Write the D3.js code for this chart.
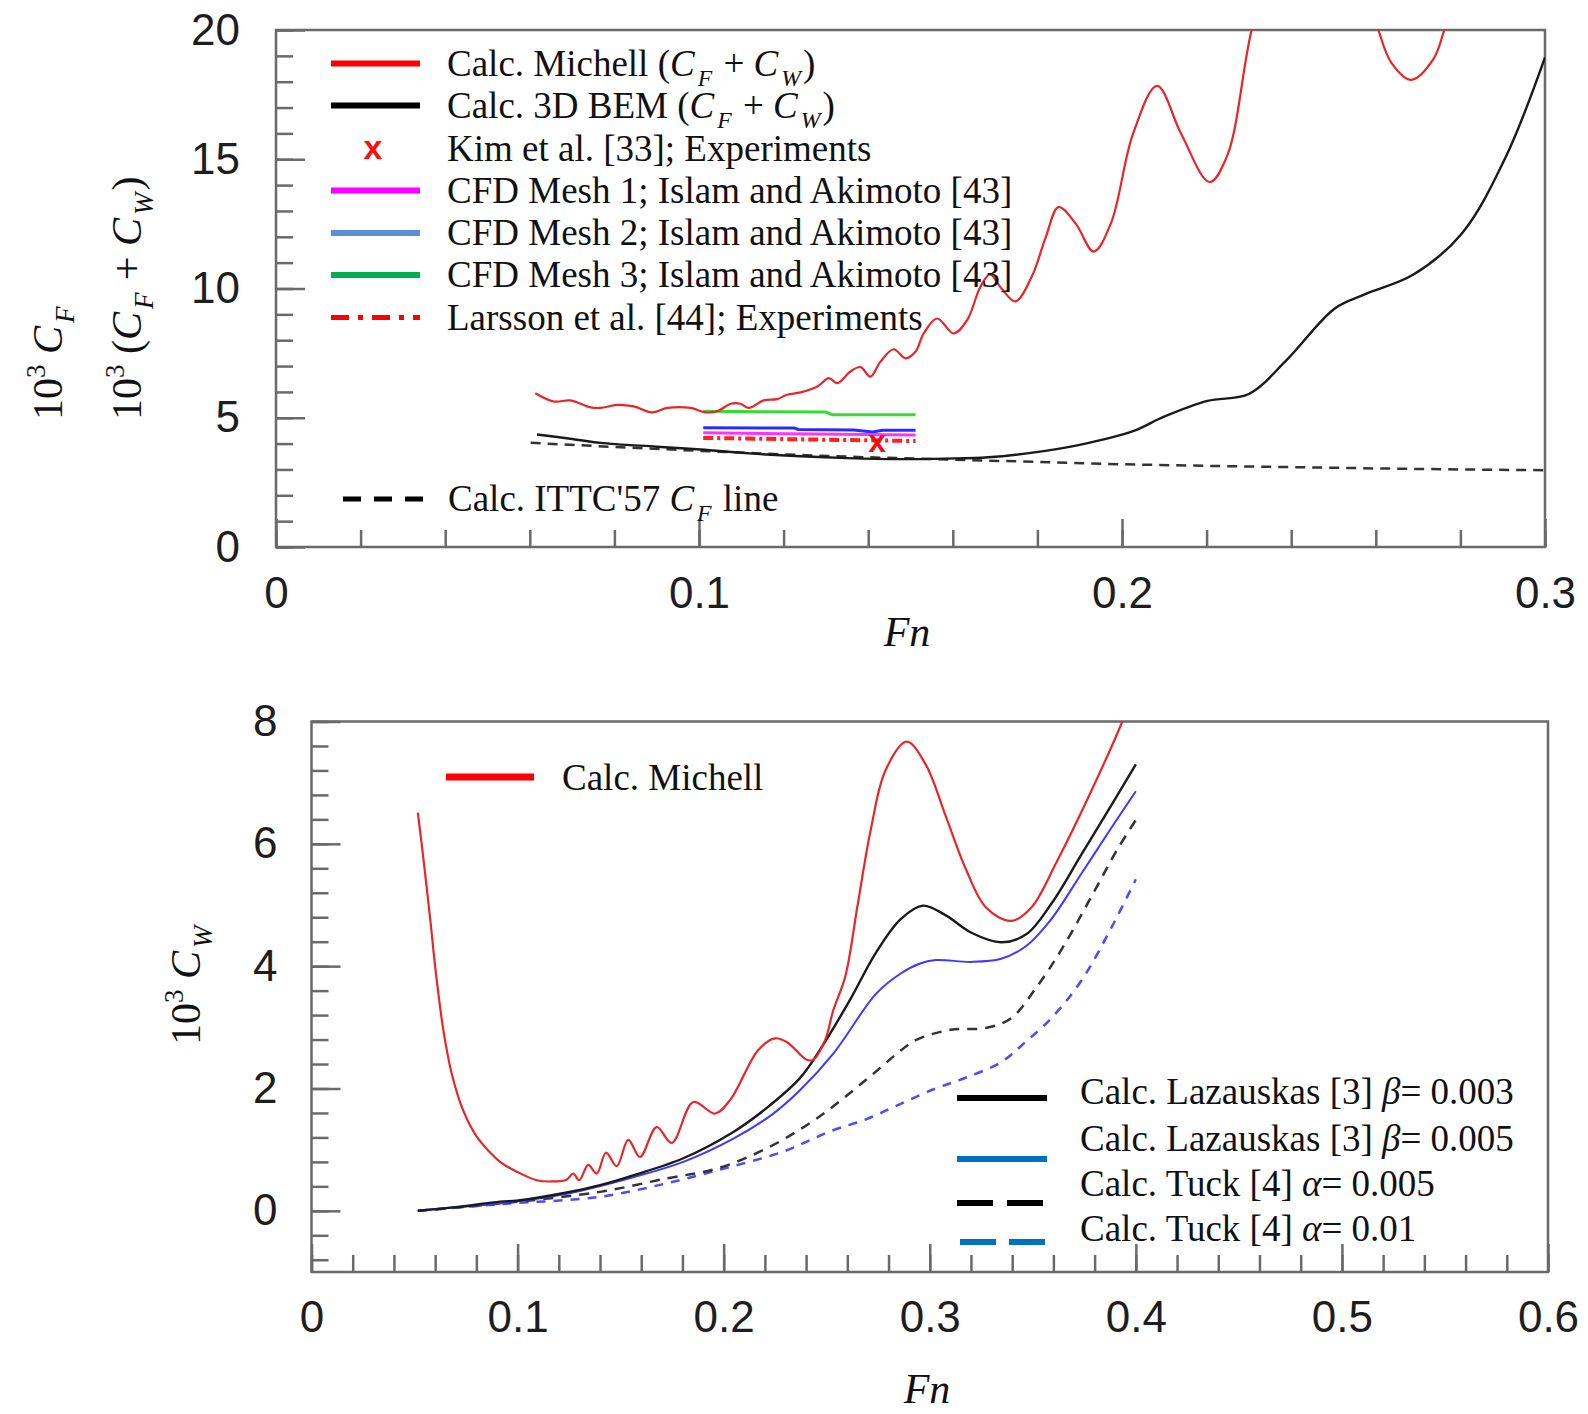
<!DOCTYPE html>
<html><head><meta charset="utf-8">
<script src="https://cdn.jsdelivr.net/npm/d3@7"></script>
<style>body{margin:0;background:#fff}svg{display:block}</style>
</head><body><svg id="c" width="1588" height="1414"></svg>
<script>
// ---------------- DATA ----------------
// Top panel: 10^3 (CF+CW) and 10^3 CF vs Fn
const topMichell = [[0.0613,5.95],[0.0657,5.63],[0.0696,5.67],[0.0744,5.40],[0.0767,5.38],[0.0807,5.50],[0.0846,5.44],[0.0889,5.21],[0.0925,5.38],[0.098,5.38],[0.1015,5.21],[0.1043,5.25],[0.1075,5.54],[0.1098,5.54],[0.1118,5.38],[0.1153,5.67],[0.1185,5.72],[0.1208,5.89],[0.124,5.98],[0.128,6.21],[0.1307,6.53],[0.1327,6.34],[0.1358,6.79],[0.1382,6.96],[0.1405,6.59],[0.1429,7.17],[0.146,7.65],[0.1488,7.30],[0.1512,7.56],[0.1531,8.26],[0.1563,8.84],[0.1602,8.26],[0.1634,8.78],[0.1665,10.06],[0.1688,10.55],[0.1715,10.0],[0.1748,9.50],[0.1787,10.47],[0.182,12.0],[0.185,13.15],[0.1891,12.5],[0.1933,11.43],[0.1974,12.53],[0.2026,15.98],[0.2083,17.84],[0.214,15.98],[0.2207,14.12],[0.2249,15.15],[0.2306,19.97],[0.236,23.0],[0.245,25.0],[0.255,23.0],[0.2606,20.0],[0.2637,18.73],[0.2684,18.07],[0.2736,18.87],[0.2762,20.0],[0.282,23.0]];
const topBEM = [[0.0617,4.35],[0.07,4.18],[0.0767,4.03],[0.09,3.88],[0.1004,3.77],[0.112,3.62],[0.124,3.51],[0.135,3.44],[0.1476,3.40],[0.158,3.42],[0.1684,3.47],[0.1819,3.72],[0.19,3.95],[0.2026,4.48],[0.2098,5.03],[0.2202,5.65],[0.23,5.92],[0.2389,7.23],[0.2503,9.23],[0.2575,9.78],[0.2689,10.54],[0.2803,12.12],[0.2907,15.08],[0.3,18.94]];
const topITTC = [[0.0602,4.03],[0.08,3.87],[0.1,3.72],[0.12,3.58],[0.14,3.47],[0.16,3.38],[0.18,3.29],[0.2,3.2],[0.22,3.14],[0.24,3.09],[0.26,3.04],[0.28,3.0],[0.3,2.97]];
const cfdMesh1 = [[0.101,4.42],[0.1512,4.33]];
const cfdMesh2 = [[0.101,4.61],[0.1225,4.60],[0.1235,4.55],[0.1366,4.53],[0.141,4.45],[0.1435,4.52],[0.1512,4.52]];
const cfdMesh3 = [[0.101,5.25],[0.13,5.22],[0.1315,5.12],[0.1512,5.12]];
const larssonExp = [[0.101,4.22],[0.1512,4.10]];
const kimExp = [[0.1421,4.09]];
const topYTicks = [0,5,10,15,20];
const topXTicks = [0,0.1,0.2,0.3];

// Bottom panel: 10^3 CW vs Fn
const botMichell = [[0.0516,6.51],[0.0545,5.7],[0.0575,4.8],[0.0605,3.85],[0.064,2.95],[0.068,2.25],[0.0735,1.65],[0.08,1.22],[0.0862,0.97],[0.0915,0.80],[0.0996,0.64],[0.1093,0.50],[0.1165,0.48],[0.1238,0.51],[0.127,0.61],[0.1299,0.50],[0.1343,0.75],[0.1384,0.61],[0.1429,0.95],[0.1481,0.73],[0.1537,1.16],[0.1594,0.88],[0.1675,1.37],[0.1748,1.11],[0.1853,1.78],[0.1958,1.59],[0.2031,1.81],[0.2168,2.63],[0.2249,2.82],[0.2306,2.76],[0.2403,2.47],[0.2435,2.47],[0.2492,2.79],[0.2532,3.28],[0.259,3.83],[0.2651,5.02],[0.2712,6.2],[0.2785,7.2],[0.2888,7.67],[0.298,7.3],[0.3078,6.45],[0.3176,5.58],[0.3273,4.96],[0.3395,4.74],[0.3493,4.96],[0.3615,5.70],[0.3761,6.70],[0.3932,7.98],[0.40,8.6]];
const lazBeta003 = [[0.0516,0.0],[0.07,0.06],[0.0915,0.15],[0.1003,0.17],[0.1238,0.30],[0.14,0.42],[0.1561,0.58],[0.1804,0.86],[0.2047,1.29],[0.2208,1.68],[0.237,2.17],[0.2467,2.63],[0.2613,3.45],[0.2737,4.21],[0.2859,4.77],[0.2968,4.99],[0.3078,4.83],[0.32,4.55],[0.3346,4.39],[0.3468,4.52],[0.359,5.02],[0.3737,5.83],[0.3883,6.64],[0.4,7.3]];
const lazBeta005 = [[0.0516,0.0],[0.07,0.06],[0.0915,0.12],[0.1238,0.28],[0.1561,0.55],[0.1804,0.80],[0.2047,1.18],[0.2241,1.59],[0.237,1.97],[0.2532,2.57],[0.274,3.55],[0.2859,3.88],[0.295,4.04],[0.3029,4.10],[0.32,4.07],[0.3346,4.12],[0.3468,4.33],[0.359,4.77],[0.3737,5.52],[0.3883,6.27],[0.4,6.86]];
const tuckAlpha005 = [[0.0516,0.0],[0.0915,0.12],[0.14,0.31],[0.1723,0.53],[0.1966,0.69],[0.2208,1.02],[0.2451,1.51],[0.2694,2.15],[0.2859,2.62],[0.2937,2.8],[0.3102,2.96],[0.3273,2.99],[0.3395,3.15],[0.3517,3.65],[0.3639,4.27],[0.3785,5.14],[0.3907,5.89],[0.4,6.39]];
const tuckAlpha01 = [[0.0516,0.0],[0.0915,0.11],[0.14,0.23],[0.1723,0.45],[0.1966,0.66],[0.229,0.97],[0.2517,1.30],[0.2694,1.50],[0.2859,1.75],[0.3029,2.0],[0.3176,2.18],[0.3346,2.43],[0.3468,2.77],[0.359,3.15],[0.3737,3.77],[0.3883,4.64],[0.4,5.42]];
const botYTicks = [0,2,4,6,8];
const botXTicks = [0,0.1,0.2,0.3,0.4,0.5,0.6];

// ---------------- DRAWING ----------------
const svg = d3.select('#c');
svg.append('rect').attr('width',1588).attr('height',1414).attr('fill','#fff');
const SERIF = "'Liberation Serif','Times New Roman',serif";
const SANS = "'Liberation Sans',Arial,sans-serif";
const AXC = '#6a6a6a';
const LFS = 37;

function rich(sel, parts, fs){
  let shift = 0, prevSub = false;
  parts.forEach(p => {
    const ts = sel.append('tspan').text(p.t);
    if (p.i) ts.attr('font-style','italic');
    const target = p.sub ? fs*0.28 : (p.sup ? -fs*0.4 : 0);
    if (p.sub || p.sup) ts.attr('font-size', fs*0.64);
    if (p.sub) ts.attr('dx', 3);
    else if (prevSub) ts.attr('dx', 2);
    if (target !== shift) { ts.attr('dy', target - shift); shift = target; }
    prevSub = !!p.sub;
  });
}

function panel(cfg){
  const x = d3.scaleLinear(cfg.xd, [cfg.L, cfg.R]);
  const y = d3.scaleLinear(cfg.yd, [cfg.B, cfg.T]);
  const g = svg.append('g');
  const ax1 = g.append('g').attr('transform',`translate(${cfg.L},0)`)
    .call(d3.axisLeft(y).tickValues(cfg.yMinor).tickSize(-17).tickFormat(''));
  const ax2 = g.append('g').attr('transform',`translate(${cfg.L},0)`)
    .call(d3.axisLeft(y).tickValues(cfg.yTicks).tickSize(-29).tickPadding(cfg.yPad).tickFormat(d3.format('d')));
  const ax3 = g.append('g').attr('transform',`translate(0,${cfg.B})`)
    .call(d3.axisBottom(x).tickValues(cfg.xMinor).tickSize(-17).tickFormat(''));
  const ax4 = g.append('g').attr('transform',`translate(0,${cfg.B})`)
    .call(d3.axisBottom(x).tickValues(cfg.xTicks).tickSize(-28).tickFormat(d => d===0 ? '0' : d3.format('.1f')(d)));
  [ax1,ax2,ax3,ax4].forEach(a => {
    a.select('.domain').remove();
    a.selectAll('line').attr('stroke',AXC).attr('stroke-width',2.5);
    a.selectAll('text').attr('font-family',SANS).attr('font-size',44).attr('fill','#1e1e1e');
  });
  ax4.selectAll('text').attr('y', cfg.xPad).attr('dy','0.36em');
  g.append('rect').attr('x',cfg.L).attr('y',cfg.T).attr('width',cfg.R-cfg.L).attr('height',cfg.B-cfg.T)
    .attr('fill','none').attr('stroke',AXC).attr('stroke-width',2.5);
  const id = 'clip'+cfg.name;
  svg.append('clipPath').attr('id',id).append('rect')
    .attr('x',cfg.L).attr('y',cfg.T).attr('width',cfg.R-cfg.L).attr('height',cfg.B-cfg.T);
  const plot = svg.append('g').attr('clip-path',`url(#${id})`);
  return {x,y,g,plot};
}

// ---------- TOP PANEL ----------
const TOP = panel({name:'top', xd:[0,0.3], yd:[0,20], L:276, R:1545, T:30, B:547,
  yTicks: topYTicks, yMinor: d3.range(0,20.01,1), xTicks: topXTicks, xMinor: d3.range(0,0.3001,0.02),
  yPad:36, xPad:45});

const legTop = svg.append('g');
const topRows = [
  {y:63.5, color:'#ff0000', w:6, parts:[{t:'Calc. Michell ('},{t:'C',i:1},{t:'F',i:1,sub:1},{t:' + '},{t:'C',i:1},{t:'W',i:1,sub:1},{t:')'}]},
  {y:105.5, color:'#000', w:6, parts:[{t:'Calc. 3D BEM ('},{t:'C',i:1},{t:'F',i:1,sub:1},{t:' + '},{t:'C',i:1},{t:'W',i:1,sub:1},{t:')'}]},
  {y:148.5, marker:true, parts:[{t:'Kim et al. [33]; Experiments'}]},
  {y:190.5, color:'#ff00ff', w:6, parts:[{t:'CFD Mesh 1; Islam and Akimoto [43]'}]},
  {y:233, color:'#5b8fd8', w:6, parts:[{t:'CFD Mesh 2; Islam and Akimoto [43]'}]},
  {y:275, color:'#00b050', w:6, parts:[{t:'CFD Mesh 3; Islam and Akimoto [43]'}]},
  {y:317.5, color:'#ff0000', w:5, dash:'18,9,5,9', parts:[{t:'Larsson et al. [44]; Experiments'}]},
  {y:499, color:'#000', w:5, dash:'18,13', x1:343, x2:427, tx:448, parts:[{t:'Calc. ITTC\'57 '},{t:'C',i:1},{t:'F',i:1,sub:1},{t:' line'}]}
];
topRows.forEach(r => {
  if (r.marker) {
    legTop.append('text').attr('x',373).attr('y',r.y).attr('dy','0.32em').attr('text-anchor','middle')
      .attr('font-family',SANS).attr('font-weight','bold').attr('font-size',34).attr('fill','#ff1010').text('x');
  } else {
    legTop.append('line').attr('x1',r.x1||331).attr('x2',r.x2||420).attr('y1',r.y).attr('y2',r.y)
      .attr('stroke',r.color).attr('stroke-width',r.w).attr('stroke-dasharray',r.dash||null);
  }
  const t = legTop.append('text').attr('x',r.tx||447).attr('y',r.y+12)
    .attr('font-family',SERIF).attr('font-size',LFS).attr('fill','#111');
  rich(t, r.parts, LFS);
});

const lineTop = d3.line().x(d=>TOP.x(d[0])).y(d=>TOP.y(d[1]));
const smoothTop = d3.line().x(d=>TOP.x(d[0])).y(d=>TOP.y(d[1])).curve(d3.curveCatmullRom.alpha(0.5));
TOP.plot.append('path').datum(topITTC).attr('d',lineTop).attr('fill','none')
  .attr('stroke','#333').attr('stroke-width',2.5).attr('stroke-dasharray','10,7');
TOP.plot.append('path').datum(topBEM).attr('d',smoothTop).attr('fill','none')
  .attr('stroke','#1a1a1a').attr('stroke-width',2.4);
TOP.plot.append('path').datum(cfdMesh3).attr('d',lineTop).attr('fill','none').attr('stroke','#33dd33').attr('stroke-width',3);
TOP.plot.append('path').datum(cfdMesh2).attr('d',lineTop).attr('fill','none').attr('stroke','#2a2aff').attr('stroke-width',3);
TOP.plot.append('path').datum(cfdMesh1).attr('d',lineTop).attr('fill','none').attr('stroke','#ff33ff').attr('stroke-width',3);
TOP.plot.append('path').datum(larssonExp).attr('d',lineTop).attr('fill','none').attr('stroke','#ff2020')
  .attr('stroke-width',4).attr('stroke-dasharray','10,4,3,4');
TOP.plot.append('path').datum(topMichell).attr('d',smoothTop).attr('fill','none')
  .attr('stroke','#e8262a').attr('stroke-width',2.2);
TOP.plot.selectAll('text.kim').data(kimExp).join('text').attr('class','kim')
  .attr('x',d=>TOP.x(d[0])).attr('y',d=>TOP.y(d[1])).attr('dy','0.32em').attr('text-anchor','middle')
  .attr('font-family',SANS).attr('font-weight','bold').attr('font-size',32).attr('fill','#ee1010').text('x');

// axis titles (top)
svg.append('text').attr('transform','translate(907,646)').attr('text-anchor','middle')
  .attr('font-family',SERIF).attr('font-style','italic').attr('font-size',42).attr('fill','#111').text('Fn');
const yl1 = svg.append('text').attr('transform','translate(62,420) rotate(-90)')
  .attr('font-family',SERIF).attr('font-size',42).attr('fill','#111');
rich(yl1,[{t:'10'},{t:'3',sup:1},{t:' C',i:1},{t:'F',i:1,sub:1}],42);
const yl2 = svg.append('text').attr('transform','translate(141,420) rotate(-90)')
  .attr('font-family',SERIF).attr('font-size',42).attr('fill','#111');
rich(yl2,[{t:'10'},{t:'3',sup:1},{t:' ('},{t:'C',i:1},{t:'F',i:1,sub:1},{t:' + '},{t:'C',i:1},{t:'W',i:1,sub:1},{t:')'}],42);

// ---------- BOTTOM PANEL ----------
const BOT = panel({name:'bot', xd:[0,0.6], yd:[-1,8], L:311.5, R:1548, T:721.5, B:1272,
  yTicks: botYTicks, yMinor: d3.range(-0.8,8.01,0.4), xTicks: botXTicks, xMinor: d3.range(0,0.6001,0.02),
  yPad:34, xPad:44});

const lineBot = d3.line().x(d=>BOT.x(d[0])).y(d=>BOT.y(d[1])).curve(d3.curveCatmullRom.alpha(0.5));
BOT.plot.append('path').datum(tuckAlpha01).attr('d',lineBot).attr('fill','none')
  .attr('stroke','#4b4bff').attr('stroke-width',2.5).attr('stroke-dasharray','9,8');
BOT.plot.append('path').datum(tuckAlpha005).attr('d',lineBot).attr('fill','none')
  .attr('stroke','#333').attr('stroke-width',2.5).attr('stroke-dasharray','10,8');
BOT.plot.append('path').datum(lazBeta005).attr('d',lineBot).attr('fill','none')
  .attr('stroke','#3b3bff').attr('stroke-width',2);
BOT.plot.append('path').datum(lazBeta003).attr('d',lineBot).attr('fill','none')
  .attr('stroke','#1a1a1a').attr('stroke-width',2.4);
BOT.plot.append('path').datum(botMichell).attr('d',lineBot).attr('fill','none')
  .attr('stroke','#e8262a').attr('stroke-width',2.2);

const legB = svg.append('g');
legB.append('line').attr('x1',446).attr('x2',534).attr('y1',777).attr('y2',777).attr('stroke','#ff0000').attr('stroke-width',7);
legB.append('text').attr('x',562).attr('y',790).attr('font-family',SERIF).attr('font-size',LFS).attr('fill','#111').text('Calc. Michell');
const botRows = [
  {ly:1098, ty:1104, color:'#000', dash:null, parts:[{t:'Calc. Lazauskas [3] '},{t:'β',i:1},{t:'= 0.003'}]},
  {ly:1159, ty:1151, color:'#0070c0', dash:null, parts:[{t:'Calc. Lazauskas [3] '},{t:'β',i:1},{t:'= 0.005'}]},
  {ly:1203, ty:1196, color:'#000', dash:'36,14', parts:[{t:'Calc. Tuck [4] '},{t:'α',i:1},{t:'= 0.005'}]},
  {ly:1242, ty:1241, color:'#0070c0', dash:'36,13', x1:960, parts:[{t:'Calc. Tuck [4] '},{t:'α',i:1},{t:'= 0.01'}]}
];
botRows.forEach(r => {
  legB.append('line').attr('x1',r.x1||957).attr('x2',1047).attr('y1',r.ly).attr('y2',r.ly)
    .attr('stroke',r.color).attr('stroke-width',6).attr('stroke-dasharray',r.dash);
  const t = legB.append('text').attr('x',1080).attr('y',r.ty).attr('font-family',SERIF).attr('font-size',LFS).attr('fill','#111');
  rich(t, r.parts, LFS);
});

svg.append('text').attr('transform','translate(927,1403)').attr('text-anchor','middle')
  .attr('font-family',SERIF).attr('font-style','italic').attr('font-size',42).attr('fill','#111').text('Fn');
const yl3 = svg.append('text').attr('transform','translate(200,1045) rotate(-90)')
  .attr('font-family',SERIF).attr('font-size',42).attr('fill','#111');
rich(yl3,[{t:'10'},{t:'3',sup:1},{t:' C',i:1},{t:'W',i:1,sub:1}],42);
</script>
</body></html>
